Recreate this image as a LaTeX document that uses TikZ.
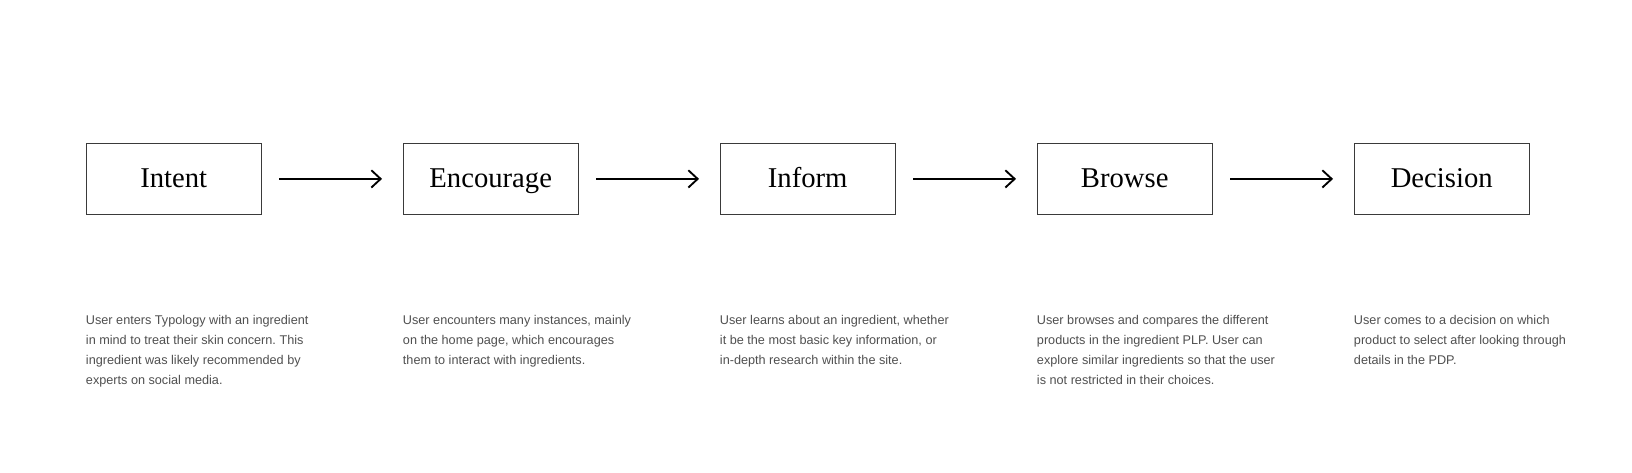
\documentclass[tikz,border=0pt]{standalone}
\usepackage{fontspec}
\setmainfont{Liberation Serif}
\newfontfamily\descfont{Liberation Sans}
\usetikzlibrary{arrows.meta}
\definecolor{boxline}{HTML}{3A3A3A}
\definecolor{desc}{HTML}{505050}
\frenchspacing
\begin{document}
\begin{tikzpicture}[x=0.75pt,y=-0.75pt,
  stage/.style={draw=boxline, line width=0.8pt, minimum width=131.25pt, minimum height=53.5pt, inner sep=0pt, text height=14.2pt, text depth=2pt, anchor=north west, font=\fontsize{21.5}{24}\selectfont},
  flow/.style={line width=1.6pt, -{Straight Barb[length=7pt,width=13pt,line width=1.4pt]}, shorten <=13pt, shorten >=15.5pt},
  desctext/.style={anchor=north west, align=left, inner sep=0pt, text=desc, font=\descfont\fontsize{9.5}{15}\selectfont}]
\useasboundingbox (0,0) rectangle (1632,472);
\fill[white] (0,0) rectangle (1632,472);
\node[stage] (intent) at (85.7,142.7) {Intent};
\node[stage] (encourage) at (402.7,142.7) {Encourage};
\node[stage] (inform) at (719.7,142.7) {Inform};
\node[stage] (browse) at (1036.7,142.7) {Browse};
\node[stage] (decision) at (1353.7,142.7) {Decision};
\draw[flow] (intent.east) -- (encourage.west);
\draw[flow] (encourage.east) -- (inform.west);
\draw[flow] (inform.east) -- (browse.west);
\draw[flow] (browse.east) -- (decision.west);
\node[desctext] (d1) at (85.7,310.5) {\strut User enters Typology with an ingredient\\in mind to treat their skin concern. This\\ingredient was likely recommended by\\experts on social media.};
\node[desctext] (d2) at (402.7,310.5) {\strut User encounters many instances, mainly\\on the home page, which encourages\\them to interact with ingredients.};
\node[desctext] (d3) at (719.7,310.5) {\strut User learns about an ingredient, whether\\it be the most basic key information, or\\in-depth research within the site.};
\node[desctext] (d4) at (1036.7,310.5) {\strut User browses and compares the different\\products in the ingredient PLP. User can\\explore similar ingredients so that the user\\is not restricted in their choices.};
\node[desctext] (d5) at (1353.7,310.5) {\strut User comes to a decision on which\\product to select after looking through\\details in the PDP.};
\end{tikzpicture}
\end{document}
